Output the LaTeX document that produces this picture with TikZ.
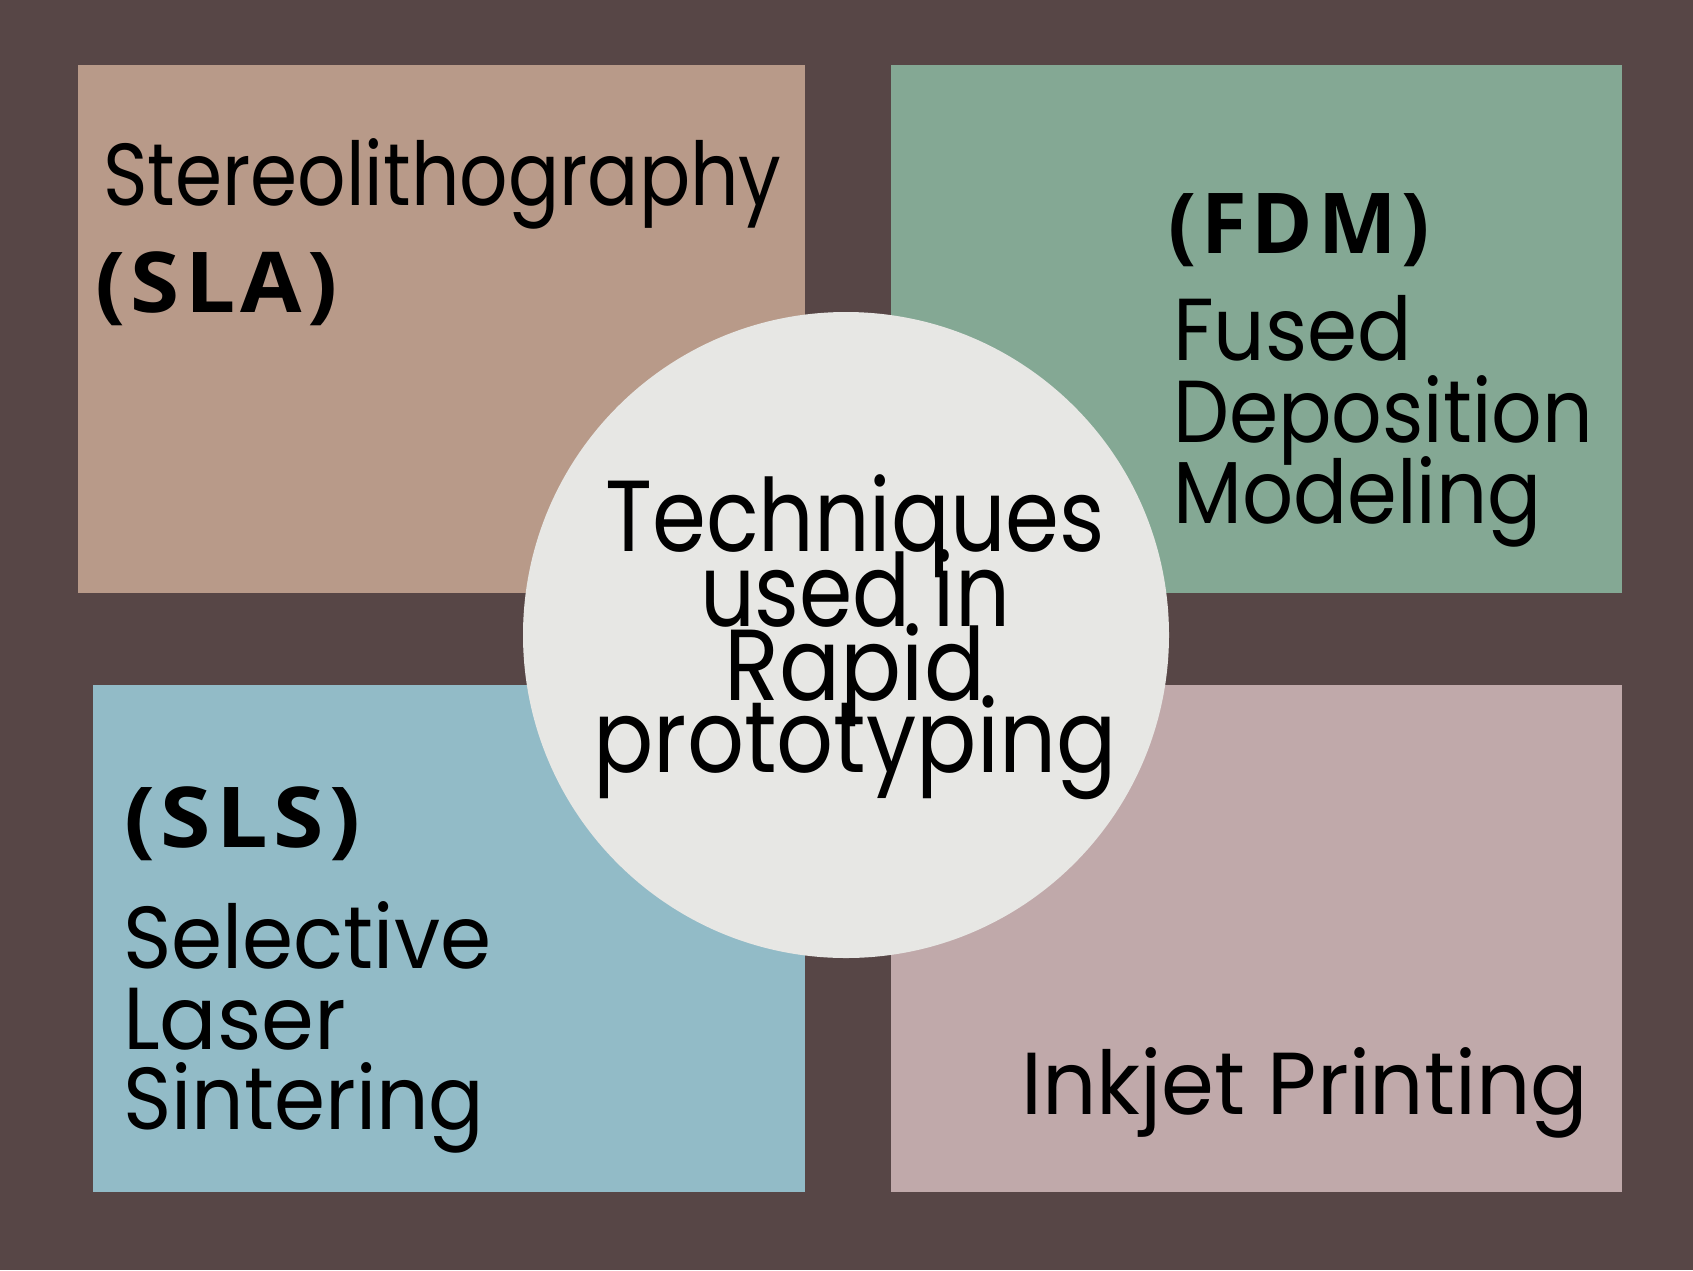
\documentclass[tikz,border=0pt]{standalone}
\usepackage{fontspec}
\setmainfont{Poppins}
\newfontfamily\boldfam{Open Sans}[LetterSpace=6]
\definecolor{bgc}{HTML}{574646}
\definecolor{slac}{HTML}{B89A89}
\definecolor{fdmc}{HTML}{84A894}
\definecolor{slsc}{HTML}{92BBC7}
\definecolor{inkc}{HTML}{C0A9AA}
\definecolor{circc}{HTML}{E7E7E4}
\newcommand{\regtxt}[2]{\scalebox{#1}[1]{\fontsize{88}{88}\selectfont #2}}
\newcommand{\midtxt}[2]{\scalebox{#1}[1]{\fontsize{101}{101}\selectfont #2}}
\newcommand{\bldtxt}[2]{\scalebox{#1}[1]{\fontsize{84}{84}\selectfont\boldfam\bfseries #2}}
\tikzset{
  panel/.style={rectangle, draw=none, inner sep=0pt},
  lbl/.style={inner sep=0pt, anchor=base west, text=black},
  ctr/.style={inner sep=0pt, anchor=base, text=black},
}
\begin{document}
\begin{tikzpicture}[x=1pt,y=-1pt]
\fill[bgc] (0,0) rectangle (1693,1270);
\useasboundingbox (0,0) rectangle (1693,1270);
\node[panel, fill=slac, minimum width=727pt, minimum height=528pt] (sla) at (441.5,329) {};
\node[panel, fill=fdmc, minimum width=731pt, minimum height=528pt] (fdm) at (1256.5,329) {};
\node[panel, fill=slsc, minimum width=712pt, minimum height=507pt] (sls) at (449,938.5) {};
\node[panel, fill=inkc, minimum width=731pt, minimum height=507pt] (ink) at (1256.5,938.5) {};
\node[circle, fill=circc, inner sep=0pt, minimum size=646pt] (c) at (846,635) {};
% center text
\node[ctr] (t1) at (855,551) {\midtxt{0.86}{Techniques}};
\node[ctr] (t2) at (855,626) {\midtxt{0.85}{used in}};
\node[ctr] (t3) at (855,700) {\midtxt{0.895}{Rapid}};
\node[ctr] (t4) at (855,772) {\midtxt{0.884}{prototyping}};
% SLA
\node[lbl] (s1) at (103,205) {\regtxt{0.862}{Stereolithography}};
\node[lbl] (s2) at (95,312) {\bldtxt{1.06}{(SLA)}};
% FDM
\node[lbl] (f1) at (1168,253) {\bldtxt{0.99}{(FDM)}};
\node[lbl] (f2) at (1173,360) {\regtxt{0.916}{Fused}};
\node[lbl] (f3) at (1173,442) {\regtxt{0.90}{Deposition}};
\node[lbl] (f4) at (1173,523) {\regtxt{0.91}{Modeling}};
% SLS
\node[lbl] (l1) at (124,847) {\bldtxt{1.09}{(SLS)}};
\node[lbl] (l2) at (123,968) {\regtxt{0.936}{Selective}};
\node[lbl] (l3) at (123,1049) {\regtxt{0.967}{Laser}};
\node[lbl] (l4) at (123,1129) {\regtxt{0.935}{Sintering}};
% Inkjet
\node[lbl] (i1) at (1021,1114) {\regtxt{0.967}{Inkjet Printing}};
\end{tikzpicture}
\end{document}
